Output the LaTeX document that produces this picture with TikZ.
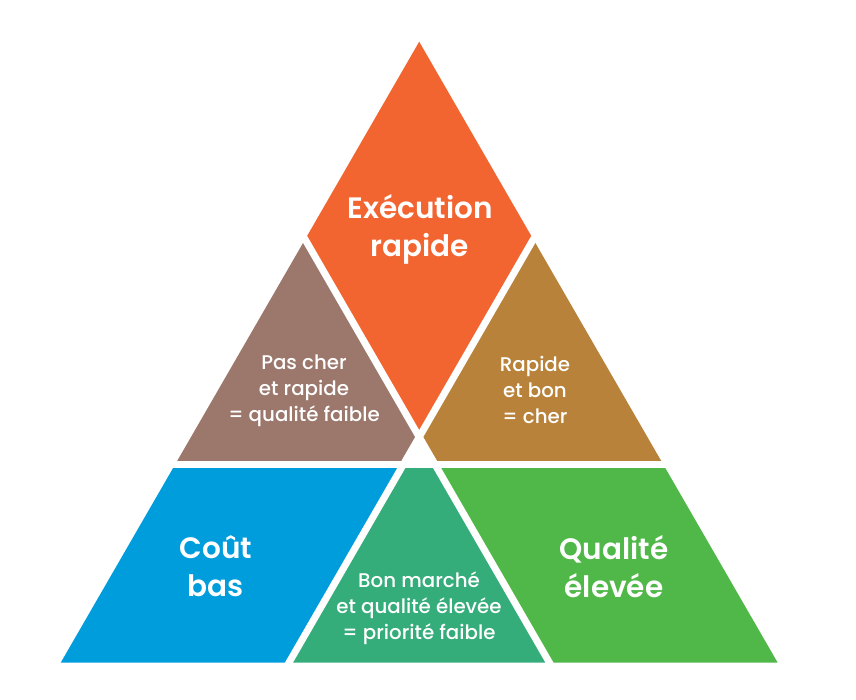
\documentclass[tikz,border=0pt]{standalone}
\usepackage{fontspec}
\newfontfamily\headfont{Poppins SemiBold}
\newfontfamily\notefont{Poppins Medium}
\usepackage{tikz}
\definecolor{speedorange}{RGB}{242,101,49}
\definecolor{cheapbrown}{RGB}{156,120,108}
\definecolor{goodbronze}{RGB}{184,130,58}
\definecolor{costblue}{RGB}{0,157,220}
\definecolor{lowteal}{RGB}{53,173,123}
\definecolor{qualgreen}{RGB}{80,184,72}

\begin{document}
\begin{tikzpicture}[x=1pt,y=-1pt,
  cut/.style={white,line width=7pt,shorten <=-8pt,shorten >=-8pt},
  bigtxt/.style={text=white,align=center,font=\headfont\fontsize{29.5}{38}\selectfont},
  smalltxt/.style={text=white,align=center,font=\notefont\fontsize{19.8}{25.8}\selectfont}]
\useasboundingbox (0,0) rectangle (856,700);
% corners and cut points
\coordinate (apex) at (419.2,41.7);
\coordinate (botL) at (60.7,662.7);
\coordinate (botR) at (777.7,662.7);
\coordinate (cross) at (419.2,437);
\coordinate (rhL) at (305.1,239.4);
\coordinate (rhR) at (533.3,239.4);
\coordinate (midL) at (175.3,464.2);
\coordinate (midR) at (663.1,464.2);
\coordinate (midB) at (403.5,464.2);
\coordinate (midA) at (434.9,464.2);
\coordinate (botB) at (288.9,662.7);
\coordinate (botA) at (549.5,662.7);
% pieces
\fill[speedorange] (apex) -- (rhL) -- (cross) -- (rhR) -- cycle;
\fill[cheapbrown] (rhL) -- (midL) -- (midB) -- (cross) -- cycle;
\fill[goodbronze] (rhR) -- (cross) -- (midA) -- (midR) -- cycle;
\fill[costblue] (midL) -- (midB) -- (botB) -- (botL) -- cycle;
\fill[lowteal] (midB) -- (midA) -- (botA) -- (botB) -- cycle;
\fill[qualgreen] (midA) -- (midR) -- (botR) -- (botA) -- cycle;
% white gaps
\draw[cut] (rhL) -- (botA);
\draw[cut] (rhR) -- (botB);
\draw[cut] (midL) -- (midR);
% labels
\node[bigtxt] (speed) at (420,229) {Exécution\\rapide};
\node[bigtxt] (cost) at (216,566) {Coût\\bas};
\node[bigtxt] (quality) at (614,567) {Qualité\\élevée};
\node[smalltxt] (cheapfast) at (304,391) {Pas cher\\et rapide\\= qualité faible};
\node[smalltxt] (fastgood) at (535,390) {Rapide\\et bon\\= cher};
\node[smalltxt] (cheapgood) at (419,608) {Bon marché\\et qualité élevée\\= priorité faible};
\end{tikzpicture}
\end{document}
